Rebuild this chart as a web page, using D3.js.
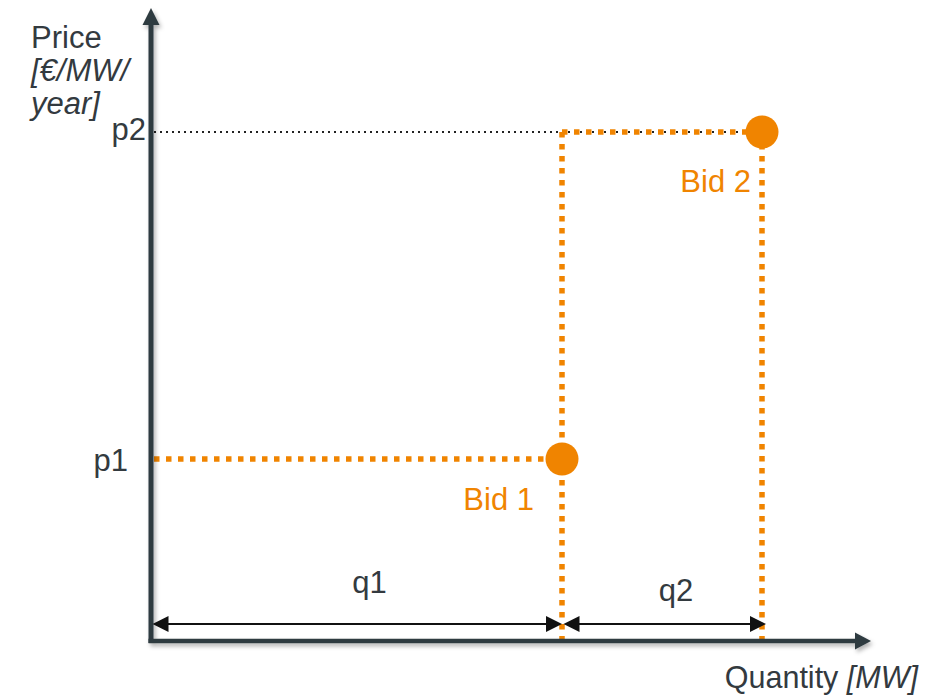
<!DOCTYPE html>
<html><head><meta charset="utf-8">
<script src="https://cdn.jsdelivr.net/npm/d3@7"></script>
<style>
html,body{margin:0;padding:0;background:#fff;}
svg{display:block;font-family:"Liberation Sans",Arial,sans-serif;}
</style></head>
<body>
<svg id="c" width="928" height="697"></svg>
<script>
// Data
const bidLabels = ["Bid 1", "Bid 2"];
const bidQuantities = [4.11, 2.0];      // q1, q2 (MW, schematic)
const bidPrices = [1.82, 5.09];         // p1, p2 (€/MW/year, schematic)
const priceTickLabels = ["p1", "p2"];
const quantityTickLabels = ["q1", "q2"];
const yAxisTitle = ["Price", "[€/MW/", "year]"];
const xAxisTitle = ["Quantity ", "[MW]"];

const svg = d3.select("#c");
const x = d3.scaleLinear().domain([0, 7.2]).range([151, 871]);
const y = d3.scaleLinear().domain([0, 6.33]).range([641, 8]);

const ORANGE = "#f08400", AXIS = "#2e3a40", TEXT = "#333a3f";

const cum = d3.cumsum(bidQuantities);
const bids = bidLabels.map((l, i) => ({label: l, q: cum[i], p: bidPrices[i], q0: i ? cum[i-1] : 0}));

const defs = svg.append("defs");
const f = defs.append("filter").attr("id", "sh").attr("x", "-10%").attr("y", "-10%").attr("width", "130%").attr("height", "130%");
f.append("feDropShadow").attr("dx", 2).attr("dy", 3).attr("stdDeviation", 2).attr("flood-color", "#000").attr("flood-opacity", 0.3);

// Black dotted line at p2 level from axis
svg.append("line")
  .attr("x1", x(0) + 3).attr("x2", x(bids[1].q))
  .attr("y1", y(bids[1].p)).attr("y2", y(bids[1].p))
  .attr("stroke", "#222").attr("stroke-width", 2).attr("stroke-dasharray", "2,4");

// Orange dotted lines
const dot = {stroke: ORANGE, "stroke-width": 5.5, "stroke-dasharray": "5.5,6.5"};
function oline(x1, y1, x2, y2) {
  const l = svg.append("line").attr("x1", x1).attr("y1", y1).attr("x2", x2).attr("y2", y2);
  Object.entries(dot).forEach(([k, v]) => l.attr(k, v));
}
oline(x(0) + 3, y(bids[0].p), x(bids[0].q), y(bids[0].p));
oline(x(bids[0].q), y(bids[1].p), x(bids[0].q), y(0) + 2);
oline(x(bids[0].q), y(bids[1].p), x(bids[1].q), y(bids[1].p));
oline(x(bids[1].q), y(bids[1].p), x(bids[1].q), y(0) + 2);

// Axes with shadow
const ax = svg.append("g").attr("filter", "url(#sh)");
ax.append("path")
  .attr("d", `M${x(0)},${y(0)+2} L${x(0)},${y.range()[1] + 16}`)
  .attr("stroke", AXIS).attr("stroke-width", 5).attr("fill", "none");
ax.append("path")
  .attr("d", `M${x(0)-2.5},${y(0)} L${x.range()[1] - 14},${y(0)}`)
  .attr("stroke", AXIS).attr("stroke-width", 4.5).attr("fill", "none");
ax.append("path")
  .attr("d", `M${x(0)},${y.range()[1]} l-8.5,17 l17,0 Z`).attr("fill", AXIS);
ax.append("path")
  .attr("d", `M${x.range()[1]},${y(0)} l-16,-8.5 l0,17 Z`).attr("fill", AXIS);

// Double arrows for q1, q2
const ay = 624;
bids.forEach(b => {
  const x1 = x(b.q0) + 1.5, x2 = x(b.q) + 4;
  svg.append("line").attr("x1", x1 + 10).attr("x2", x2 - 10).attr("y1", ay).attr("y2", ay)
    .attr("stroke", "#111").attr("stroke-width", 2);
  svg.append("path").attr("d", `M${x1},${ay} l16,-8 l0,16 Z`).attr("fill", "#111");
  svg.append("path").attr("d", `M${x2 - (b.q0 ? 0 : 4)},${ay} l-16,-8 l0,16 Z`).attr("fill", "#111");
});

// Points
svg.selectAll("circle.bid").data(bids).join("circle")
  .attr("cx", d => x(d.q)).attr("cy", d => y(d.p)).attr("r", 16.5).attr("fill", ORANGE);

// Bid labels
const bidOff = [[-28, 51], [-11, 60]];
svg.selectAll("text.bid").data(bids).join("text")
  .attr("x", (d, i) => x(d.q) + bidOff[i][0]).attr("y", (d, i) => y(d.p) + bidOff[i][1])
  .attr("text-anchor", "end").attr("fill", ORANGE).attr("font-size", 31)
  .text(d => d.label);

// Price tick labels
const pOff = [[-23, 12], [-5, 8]];
svg.selectAll("text.p").data(priceTickLabels).join("text")
  .attr("x", (d, i) => x(0) + pOff[i][0]).attr("y", (d, i) => y(bidPrices[i]) + pOff[i][1])
  .attr("text-anchor", "end").attr("fill", TEXT).attr("font-size", 31)
  .text(d => d);

// Quantity labels
const qOff = [[13, -31], [14, -23]];
svg.selectAll("text.q").data(quantityTickLabels).join("text")
  .attr("x", (d, i) => (x(bids[i].q0) + x(bids[i].q)) / 2 + qOff[i][0])
  .attr("y", (d, i) => ay + qOff[i][1])
  .attr("text-anchor", "middle").attr("fill", TEXT).attr("font-size", 31)
  .text(d => d);

// Y axis title
svg.selectAll("text.yt").data(yAxisTitle).join("text")
  .attr("x", 31).attr("y", (d, i) => 48 + i * 33)
  .attr("fill", TEXT).attr("font-size", 31)
  .attr("font-style", (d, i) => i ? "italic" : "normal")
  .text(d => d);

// X axis title
const xt = svg.append("text").attr("x", 918).attr("y", 688)
  .attr("text-anchor", "end").attr("fill", TEXT).attr("font-size", 30.5);
xt.append("tspan").text(xAxisTitle[0]);
xt.append("tspan").attr("font-style", "italic").text(xAxisTitle[1]);
</script>
</body></html>
